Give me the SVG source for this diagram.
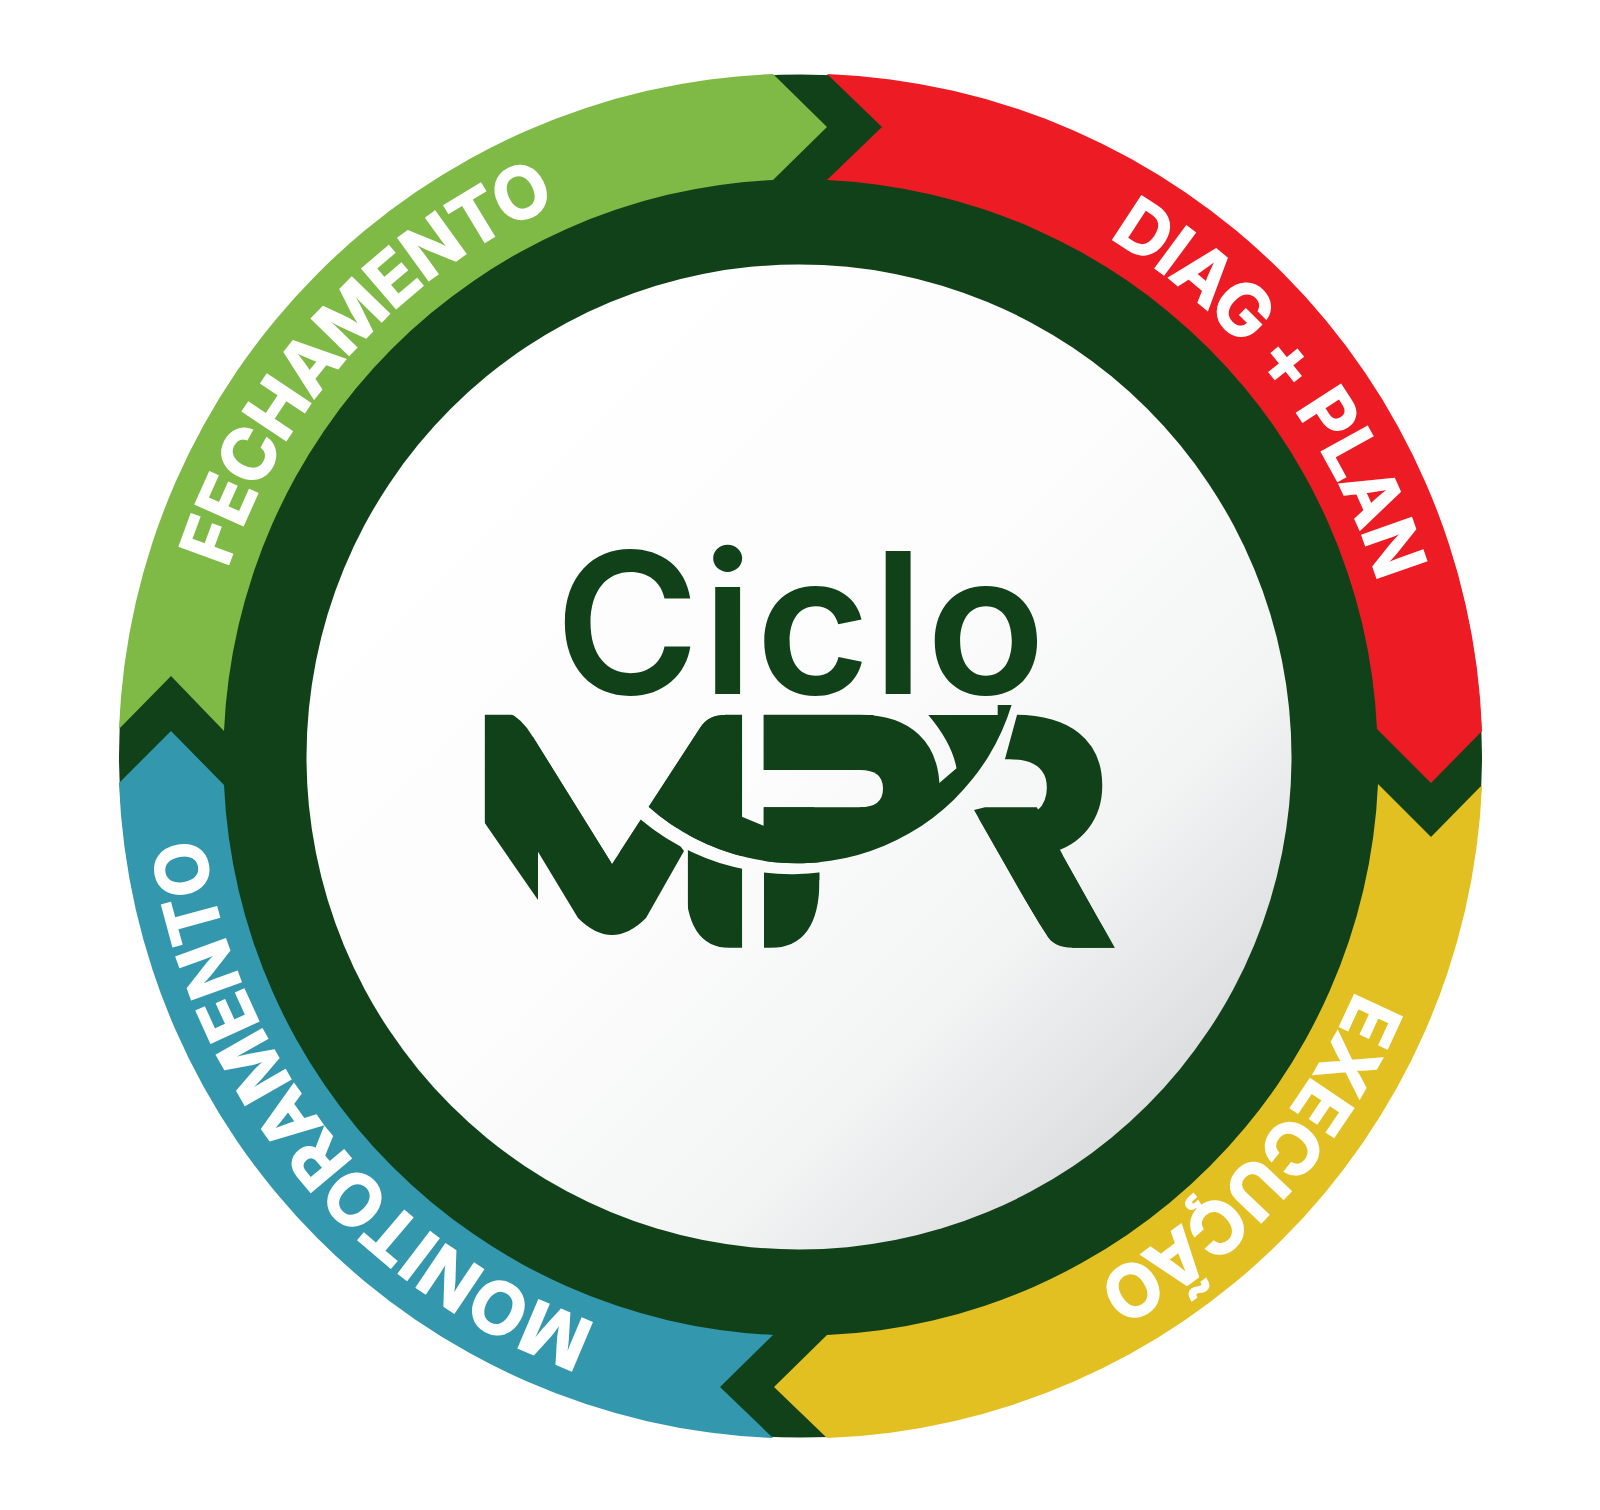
<svg xmlns="http://www.w3.org/2000/svg" width="1600" height="1510" viewBox="0 0 1600 1510">
<style>
.lab{font-family:Inter,"Open Sans",sans-serif;font-weight:700;font-size:72px;fill:#fff;stroke:#fff;stroke-width:1.6px;text-anchor:middle;letter-spacing:-.8px}
.dk{fill:#114119}
.ciclo{font-family:Inter,"Liberation Sans",sans-serif;font-weight:600;font-size:196px;fill:#114119;letter-spacing:2.5px}
.mpr{font-family:"Liberation Sans",Arial,sans-serif;font-weight:700;fill:#114119;font-size:327px;stroke:#114119;stroke-width:8px}
.cut{fill:url(#disc)}
</style>
<defs>
<linearGradient id="disc" gradientUnits="userSpaceOnUse" x1="452" y1="409" x2="1148" y2="1105">
<stop offset="0" stop-color="#ffffff"/><stop offset=".5" stop-color="#fcfcfc"/><stop offset=".78" stop-color="#f3f4f4"/><stop offset="1" stop-color="#dcdee0"/>
</linearGradient>
<path id="track" d="M197.5 756A603 603 0 1 1 1403.5 756A603 603 0 1 1 197.5 756A603 603 0 1 1 1403.5 756A603 603 0 1 1 197.5 756"/>
</defs>
<rect width="1600" height="1510" fill="#fff"/>
<g id="ring"><circle cx="800.5" cy="756" r="681.5" class="dk"/></g>
<g id="fechamento">
<path fill="#7fba47" d="M119 729A681.5 681.5 0 0 1 773 74L827 127L773 180A577 577 0 0 0 224 731L171 676Z"/>
<text class="lab"><textPath href="#track" startOffset="5.85%">FECHAMENTO</textPath></text>
</g>
<g id="diag-plan">
<path fill="#ed1c24" d="M827 74A681.5 681.5 0 0 1 1482 731L1431 783L1377 729A577 577 0 0 0 827 180L882 127Z"/>
<text class="lab"><textPath href="#track" startOffset="19.72%">DIAG + PLAN</textPath></text>
</g>
<g id="execucao">
<path fill="#e3c021" d="M1482 785A681.5 681.5 0 0 1 827 1438L774 1387L827 1335A577 577 0 0 0 1378 784L1431 837Z"/>
<text class="lab"><textPath href="#track" startOffset="30.8%">EXECUÇÃO</textPath></text>
</g>
<g id="monitoramento">
<path fill="#3398ae" d="M773 1438A681.5 681.5 0 0 1 119 783L171 731L224 785A577 577 0 0 0 773 1335L720 1387Z"/>
<text class="lab"><textPath href="#track" startOffset="44.58%">MONITORAMENTO</textPath></text>
</g>
<g id="center">
<circle cx="799" cy="757" r="492.5" fill="url(#disc)"/>
<text class="ciclo" x="555" y="694">Ciclo</text>
<text class="mpr" transform="translate(880,943.7)">R</text>
<path class="cut" d="M1011.6 700H1017V715L1002 770L974 810L1045 935V960H880V700Z"/>
<path class="dk" d="M974 810L985 807.3H1036.8L1062.8 855L1114.8 947.7H1067Q1052 947.7 1045 933.3Z"/>
<path class="cut" d="M1040 925L1046 934Q1053 947.7 1072 947.7V955H1040Z"/>
<path class="cut" d="M1062.8 855L1114.8 947.7V955H1128V855Z"/>
<text class="mpr" transform="translate(747.7,943.7) scale(.91,1)">P</text>
<text class="mpr" transform="translate(465.4,943.7) scale(1.087,1)">M</text>
<rect class="dk" x="763.6" y="715" width="110" height="60"/>
<rect class="dk" x="860" y="740" width="45" height="70"/>
<rect class="dk" x="800" y="860" width="19.5" height="88"/>
<path class="cut" d="M503 711Q520 715 533 737L612 864L700 728Q708 715 725 715V705H503Z"/>
<path class="cut" d="M478 813.3L538 900V851.7H550L575 900H680V955H478Z"/>
<path class="dk" d="M538 851.7L578 918Q612 952 646 918L684 851L650 806L612 864L533 737L520 760L538 790Z"/>
<path class="cut" d="M759 770H860Q883 770 883 788.5Q883 807.3 860 807.3H759Z"/>
<path class="cut" d="M744 870H763.6V955H744Z"/>
<path class="cut" d="M819.5 880Q819.5 948 770 948V955H826V880Z"/>
<path class="cut" d="M685.5 880Q685.5 948 730 948V955H680V880Z"/>
<path class="cut" d="M821 840L950 790L965 800V900H821Z"/>
<path class="cut" d="M630 810A235 235 0 0 0 1017 705H1011.6A224 224 0 0 1 648.6 806.7Z"/>
<path class="dk" d="M648.6 806.7A224 224 0 0 0 1011.6 705H997.7V715H928.3Q952 743 956.5 768.3L937 785L884 800L872 807.3H763.6V825.7L741.9 816.7V715H725Q708 715 700 728Z"/>
</g>
</svg>
